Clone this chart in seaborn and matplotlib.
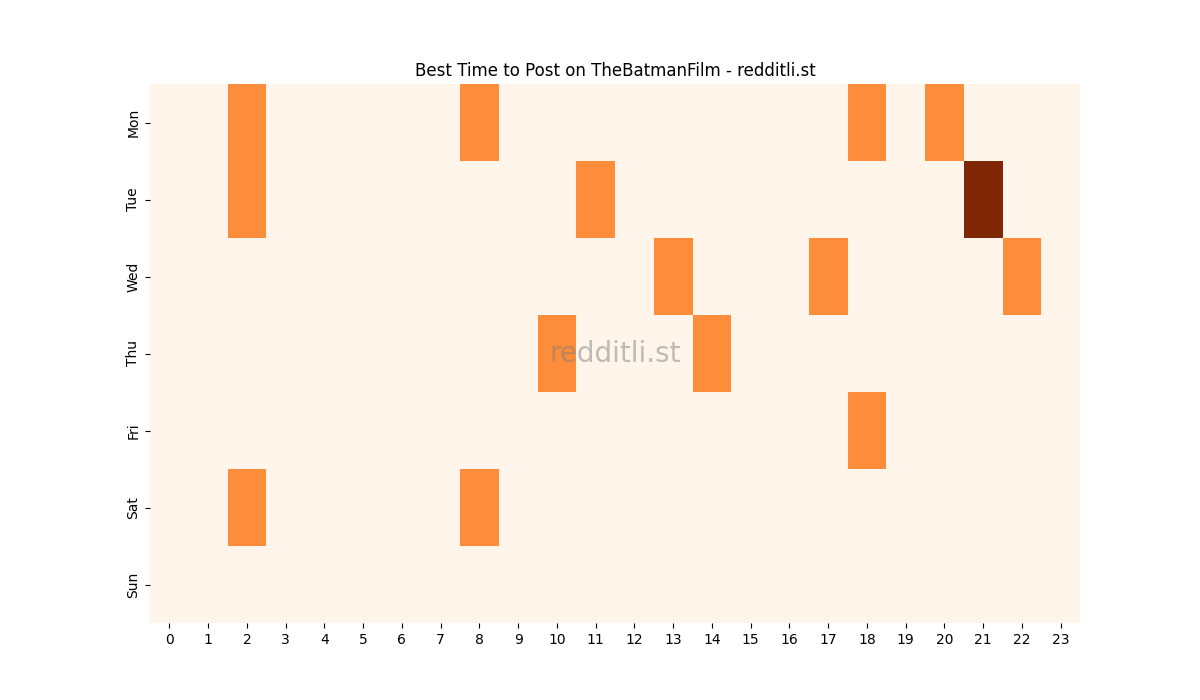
import numpy as np
import pandas as pd
import matplotlib
matplotlib.use("Agg")
import matplotlib.pyplot as plt
import seaborn as sns

# Days and hours
days = ["Mon", "Tue", "Wed", "Thu", "Fri", "Sat", "Sun"]
hours = list(range(24))

# Post counts per (day, hour)
mon = {2: 1, 8: 1, 18: 1, 20: 1}
tue = {2: 1, 11: 1, 21: 2}
wed = {13: 1, 17: 1, 22: 1}
thu = {10: 1, 14: 1}
fri = {18: 1}
sat = {2: 1, 8: 1}
sun = {}

rows = [mon, tue, wed, thu, fri, sat, sun]
grid = pd.DataFrame(
    [[r.get(h, 0) for h in hours] for r in rows],
    index=days,
    columns=hours,
)

fig, ax = plt.subplots(figsize=(12, 7), dpi=100)

sns.heatmap(grid, cmap="Oranges", cbar=False, ax=ax)

ax.set_title("Best Time to Post on TheBatmanFilm - redditli.st")
ax.set_yticklabels(days, rotation=90, va="center")
ax.set_xticklabels(hours, rotation=0)

# Watermark
ax.text(0.5, 0.5, "redditli.st", transform=ax.transAxes,
        ha="center", va="center", fontsize=20, color="grey", alpha=0.5)

plt.savefig("out.png")
